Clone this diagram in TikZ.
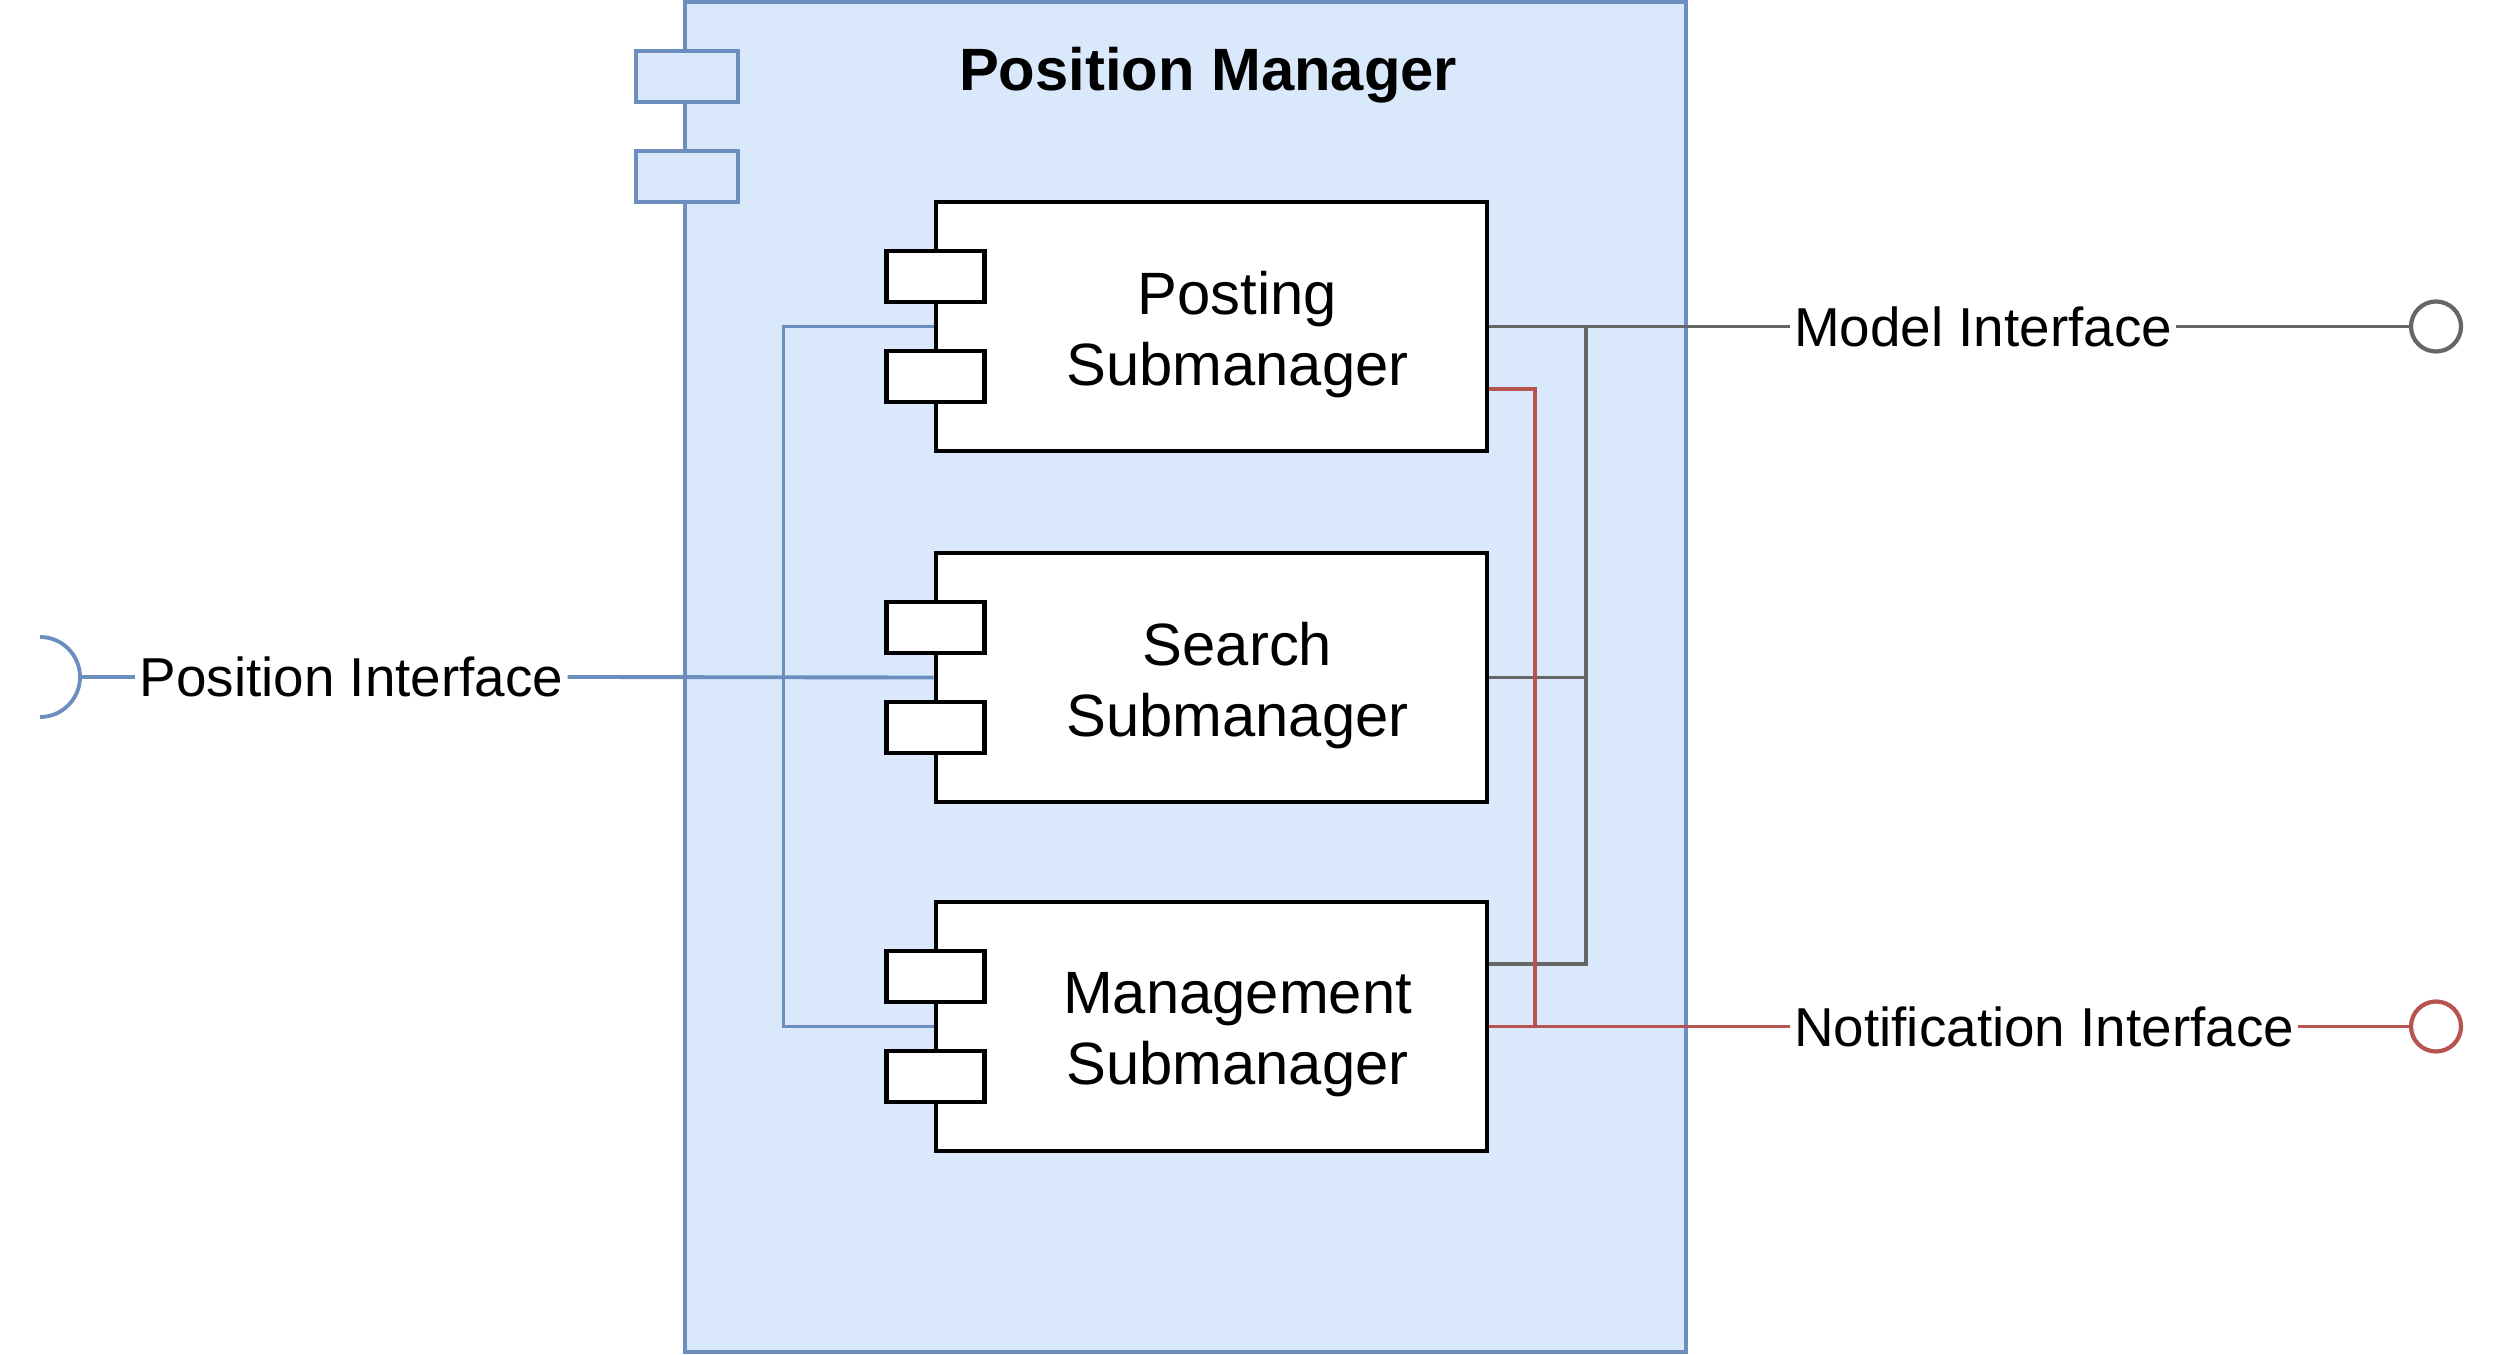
\documentclass[tikz,border=0pt]{standalone}
\usepackage{fontspec}
\setmainfont{Liberation Sans}
\usetikzlibrary{positioning}
\definecolor{pmfill}{HTML}{DAE8FC}
\definecolor{pmblue}{HTML}{6C8EBF}
\definecolor{pmred}{HTML}{B85450}
\definecolor{pmgray}{HTML}{666666}
\begin{document}
\begin{tikzpicture}[
    comp/.style={draw, line width=1.4pt, fill=white, minimum width=5.51cm, minimum height=2.49cm, inner sep=0pt},
    tab/.style={draw, line width=1.4pt, fill=white, minimum width=0.98cm, minimum height=0.51cm, inner sep=0pt},
    bigtab/.style={draw=pmblue, line width=1.1pt, fill=pmfill, minimum width=1.02cm, minimum height=0.51cm, inner sep=0pt},
    ctext/.style={align=center, font=\fontsize{17}{20}\selectfont},
    iface/.style={inner sep=1pt, font=\fontsize{15.6}{18}\selectfont},
    ball/.style={draw, circle, line width=1.2pt, fill=white, minimum size=0.5cm, inner sep=0pt},
    bline/.style={pmblue, line width=1.1pt},
    gline/.style={pmgray, line width=1.1pt},
    rline/.style={pmred, line width=1.1pt}]
  \useasboundingbox (0,0) rectangle (25,-13.55);
  % outer component
  \node[draw=pmblue, fill=pmfill, line width=1.1pt, minimum width=10.01cm, minimum height=13.5cm] (PM) at (11.855,-6.77) {};
  \node[bigtab] (PMt1) at (6.87,-0.765) {};
  \node[bigtab] (PMt2) at (6.87,-1.765) {};
  \node[font=\bfseries\fontsize{17}{20}\selectfont] (title) at (12.08,-0.75) {Position Manager};
  % submanagers
  \node[comp] (post) at (12.115,-3.265) {};
  \node[comp] (search) at (12.115,-6.775) {};
  \node[comp] (mgmt) at (12.115,-10.265) {};
  \foreach \b in {post,search,mgmt}{
    \node[tab] at ([xshift=0.02cm,yshift=0.5cm]\b.west) {};
    \node[tab] at ([xshift=0.02cm,yshift=-0.5cm]\b.west) {};
  }
  \node[ctext] (postT) at ([xshift=0.26cm,yshift=-0.08cm]post.center) {Posting\\Submanager};
  \node[ctext] (searchT) at ([xshift=0.26cm,yshift=-0.08cm]search.center) {Search\\Submanager};
  \node[ctext] (mgmtT) at ([xshift=0.26cm,yshift=-0.08cm]mgmt.center) {Management\\Submanager};
  % interfaces
  \coordinate (sock) at (0.80,-6.77);
  \coordinate (gx) at (15.86,0);
  \coordinate (rx) at (15.35,0);
  \node[iface] (posif) at (3.515,-6.77) {Position Interface};
  \node[iface, anchor=west] (modif) at (17.90,-3.265) {Model Interface};
  \node[iface, anchor=west] (notif) at (17.90,-10.265) {Notification Interface};
  \node[ball, draw=pmgray] (mball) at (24.36,-3.265) {};
  \node[ball, draw=pmred] (nball) at (24.36,-10.265) {};
  % blue
  \draw[bline] (0.40,-6.37) arc[start angle=90, end angle=-90, radius=0.40];
  \draw[bline] (sock) -- (posif.west);
  \draw[bline] (posif.east) -- (search.west);
  \draw[bline] (post.west) -- ++(-1.5,0) |- (mgmt.west);
  % gray
  \draw[gline] (post.east) -- (modif.west);
  \draw[gline] (modif.east) -- (mball.west);
  \draw[gline] (post.east -| gx) -- ([yshift=0.625cm]mgmt.east -| gx) -- ([yshift=0.625cm]mgmt.east);
  \draw[gline] (search.east) -- (search.east -| gx);
  % red
  \draw[rline] ([yshift=-0.625cm]post.east) -| (rx |- mgmt.east);
  \draw[rline] (mgmt.east) -- (notif.west);
  \draw[rline] (notif.east) -- (nball.west);
\end{tikzpicture}
\end{document}
